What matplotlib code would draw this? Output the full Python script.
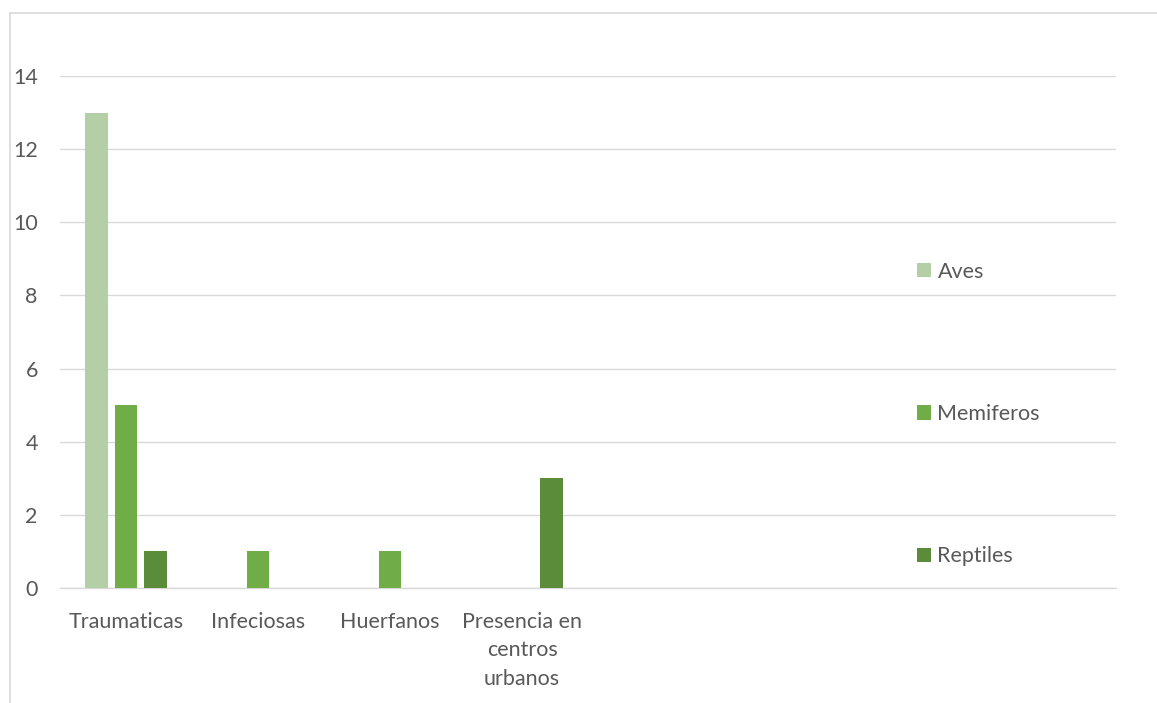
import matplotlib
matplotlib.use("Agg")
import matplotlib.pyplot as plt
from matplotlib.patches import Patch, Rectangle
import numpy as np

# Causes of admission per animal group
categories = ["Traumaticas", "Infeciosas", "Huerfanos", "Presencia en\ncentros\nurbanos",
              "", "", "", ""]
series_names = ["Aves", "Memiferos", "Reptiles"]
aves = [13, 0, 0, 0, 0, 0, 0, 0]
memiferos = [5, 1, 1, 0, 0, 0, 0, 0]
reptiles = [1, 0, 0, 3, 0, 0, 0, 0]
yticks = [0, 2, 4, 6, 8, 10, 12, 14]

colors = ["#B4CFA6", "#70AD47", "#5B8C3A"]
text_color = "#595959"
grid_color = "#D9D9D9"

plt.rcParams["font.family"] = ["Lato", "DejaVu Sans"]
FS = 15.5

W, H = 1157, 703
fig = plt.figure(figsize=(W / 100, H / 100), dpi=100)

# outer chart frame (runs off the right and bottom edges)
fig.patches.append(Rectangle((10 / W, -0.1), 1.2, 1 - 13 / H + 0.1,
                             transform=fig.transFigure, fill=False,
                             edgecolor=grid_color, linewidth=1.2))

ax = fig.add_axes([60 / W, 1 - 588 / H, 1056 / W, 512 / H])

x = np.arange(len(categories))
width = 0.174
step = 0.22
values = [aves, memiferos, reptiles]
for i, (vals, c) in enumerate(zip(values, colors)):
    ax.bar(x + (i - 1) * step, vals, width=width, color=c, zorder=3)

ax.set_xlim(-0.5, len(categories) - 0.5)
ax.set_ylim(0, 14)
ax.set_yticks(yticks)
ax.set_xticks(x)
ax.set_xticklabels(categories, linespacing=1.54)
ax.grid(axis="y", color=grid_color, linewidth=1.0, zorder=0)
for s in ["top", "right", "left"]:
    ax.spines[s].set_visible(False)
ax.spines["bottom"].set_color(grid_color)
ax.spines["bottom"].set_linewidth(1.0)
ax.tick_params(axis="both", length=0, colors=text_color, labelsize=FS)
ax.tick_params(axis="x", pad=17)
ax.tick_params(axis="y", pad=16)

handles = [Patch(facecolor=c, edgecolor="none") for c in colors]
leg = ax.legend(handles, series_names, loc="center left",
                bbox_to_anchor=((917 - 60) / 1056, (588 - 414) / 512),
                frameon=False, fontsize=FS, labelcolor=text_color,
                handlelength=0.65, handleheight=0.65, handletextpad=0.3,
                labelspacing=5.68, borderpad=0, borderaxespad=0)

fig.savefig("out.png", dpi=100)
